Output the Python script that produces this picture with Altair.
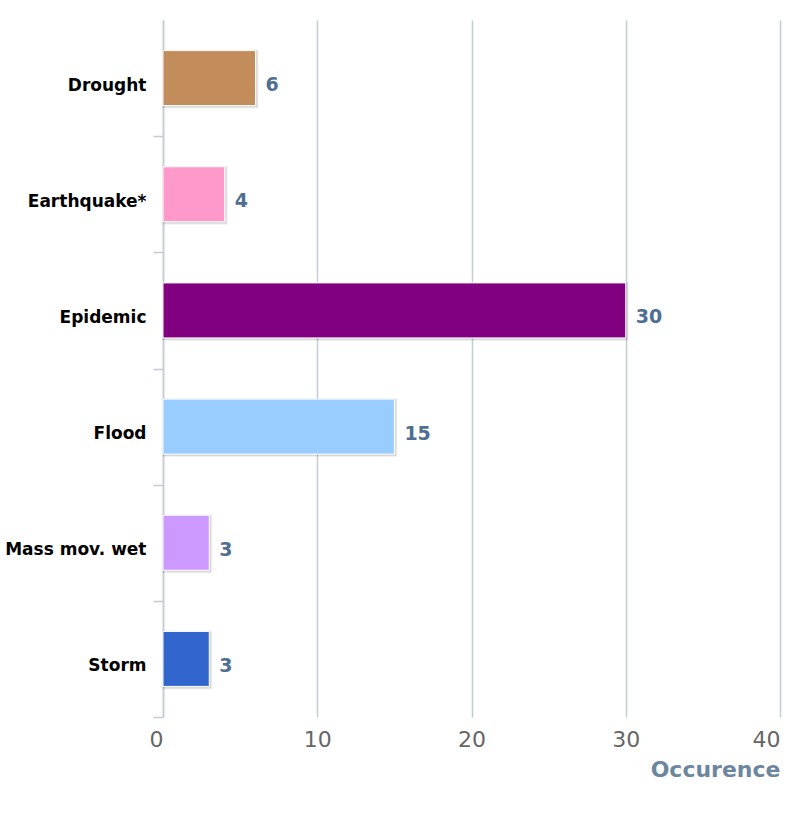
import altair as alt
import pandas as pd

categories = ["Drought", "Earthquake*", "Epidemic", "Flood", "Mass mov. wet", "Storm"]
values = [6, 4, 30, 15, 3, 3]
colors = ["#C38C5B", "#FF99CC", "#800080", "#99CCFF", "#CC99FF", "#3366CC"]
x_ticks = [0, 10, 20, 30, 40]

df = pd.DataFrame({"cat": categories, "val": values, "color": colors})

GRID = "#C4CBD3"

y = alt.Y(
    "cat:N",
    sort=categories,
    title=None,
    scale=alt.Scale(paddingInner=0, paddingOuter=0),
    axis=alt.Axis(
        tickBand="extent",
        labelFont="DejaVu Sans",
        labelFontWeight="bold",
        labelFontSize=17,
        labelColor="#000000",
        labelPadding=7,
        labelOffset=7,
        tickSize=10,
        tickColor=GRID,
        tickWidth=1.5,
        tickOpacity={"condition": {"test": "datum.extra", "value": 0}, "value": 1},
        domainColor=GRID,
        domainWidth=1.5,
        grid=False,
    ),
)

x = alt.X(
    "val:Q",
    title="Occurence",
    scale=alt.Scale(domain=[0, 40], nice=False),
    axis=alt.Axis(
        values=x_ticks,
        ticks=False,
        domain=False,
        grid=True,
        gridColor=GRID,
        gridWidth=1.5,
        labelFont="DejaVu Sans",
        labelFontSize=22,
        labelColor="#666666",
        labelPadding=12,
        labelAlign=alt.expr(
            "datum.value == 40 ? 'right' : (datum.value == 0 ? 'right' : 'center')"
        ),
        titleFont="DejaVu Sans",
        titleFontSize=22,
        titleFontWeight="bold",
        titleColor="#6D869F",
        titleAnchor="end",
        titlePadding=9,
    ),
)

base = alt.Chart(df).encode(y=y, x=x)

shadow1 = base.mark_bar(
    size=55, fillOpacity=0, stroke="#000000", strokeWidth=4, strokeOpacity=0.05,
    xOffset=1, yOffset=1,
)
shadow2 = base.mark_bar(
    size=55, fillOpacity=0, stroke="#000000", strokeWidth=2, strokeOpacity=0.1,
    xOffset=1, yOffset=1,
)
bars = base.mark_bar(size=55, stroke="white", strokeWidth=1).encode(
    color=alt.Color("color:N", scale=None)
)
labels = base.mark_text(
    align="left", baseline="middle", dx=10, dy=7, font="DejaVu Sans",
    fontSize=19, fontWeight="bold", color="#4E6E92",
).encode(text="val:Q")

chart = (
    alt.layer(shadow1, shadow2, bars, labels)
    .properties(
        width=617,
        height=697,
        autosize=alt.AutoSizeParams(type="none"),
        padding={"left": 163, "top": 20, "right": 20, "bottom": 106},
        background="white",
    )
    .configure(font="DejaVu Sans")
    .configure_view(stroke=None)
)

chart.save("out.html", embed_options={"renderer": "svg", "actions": False})
